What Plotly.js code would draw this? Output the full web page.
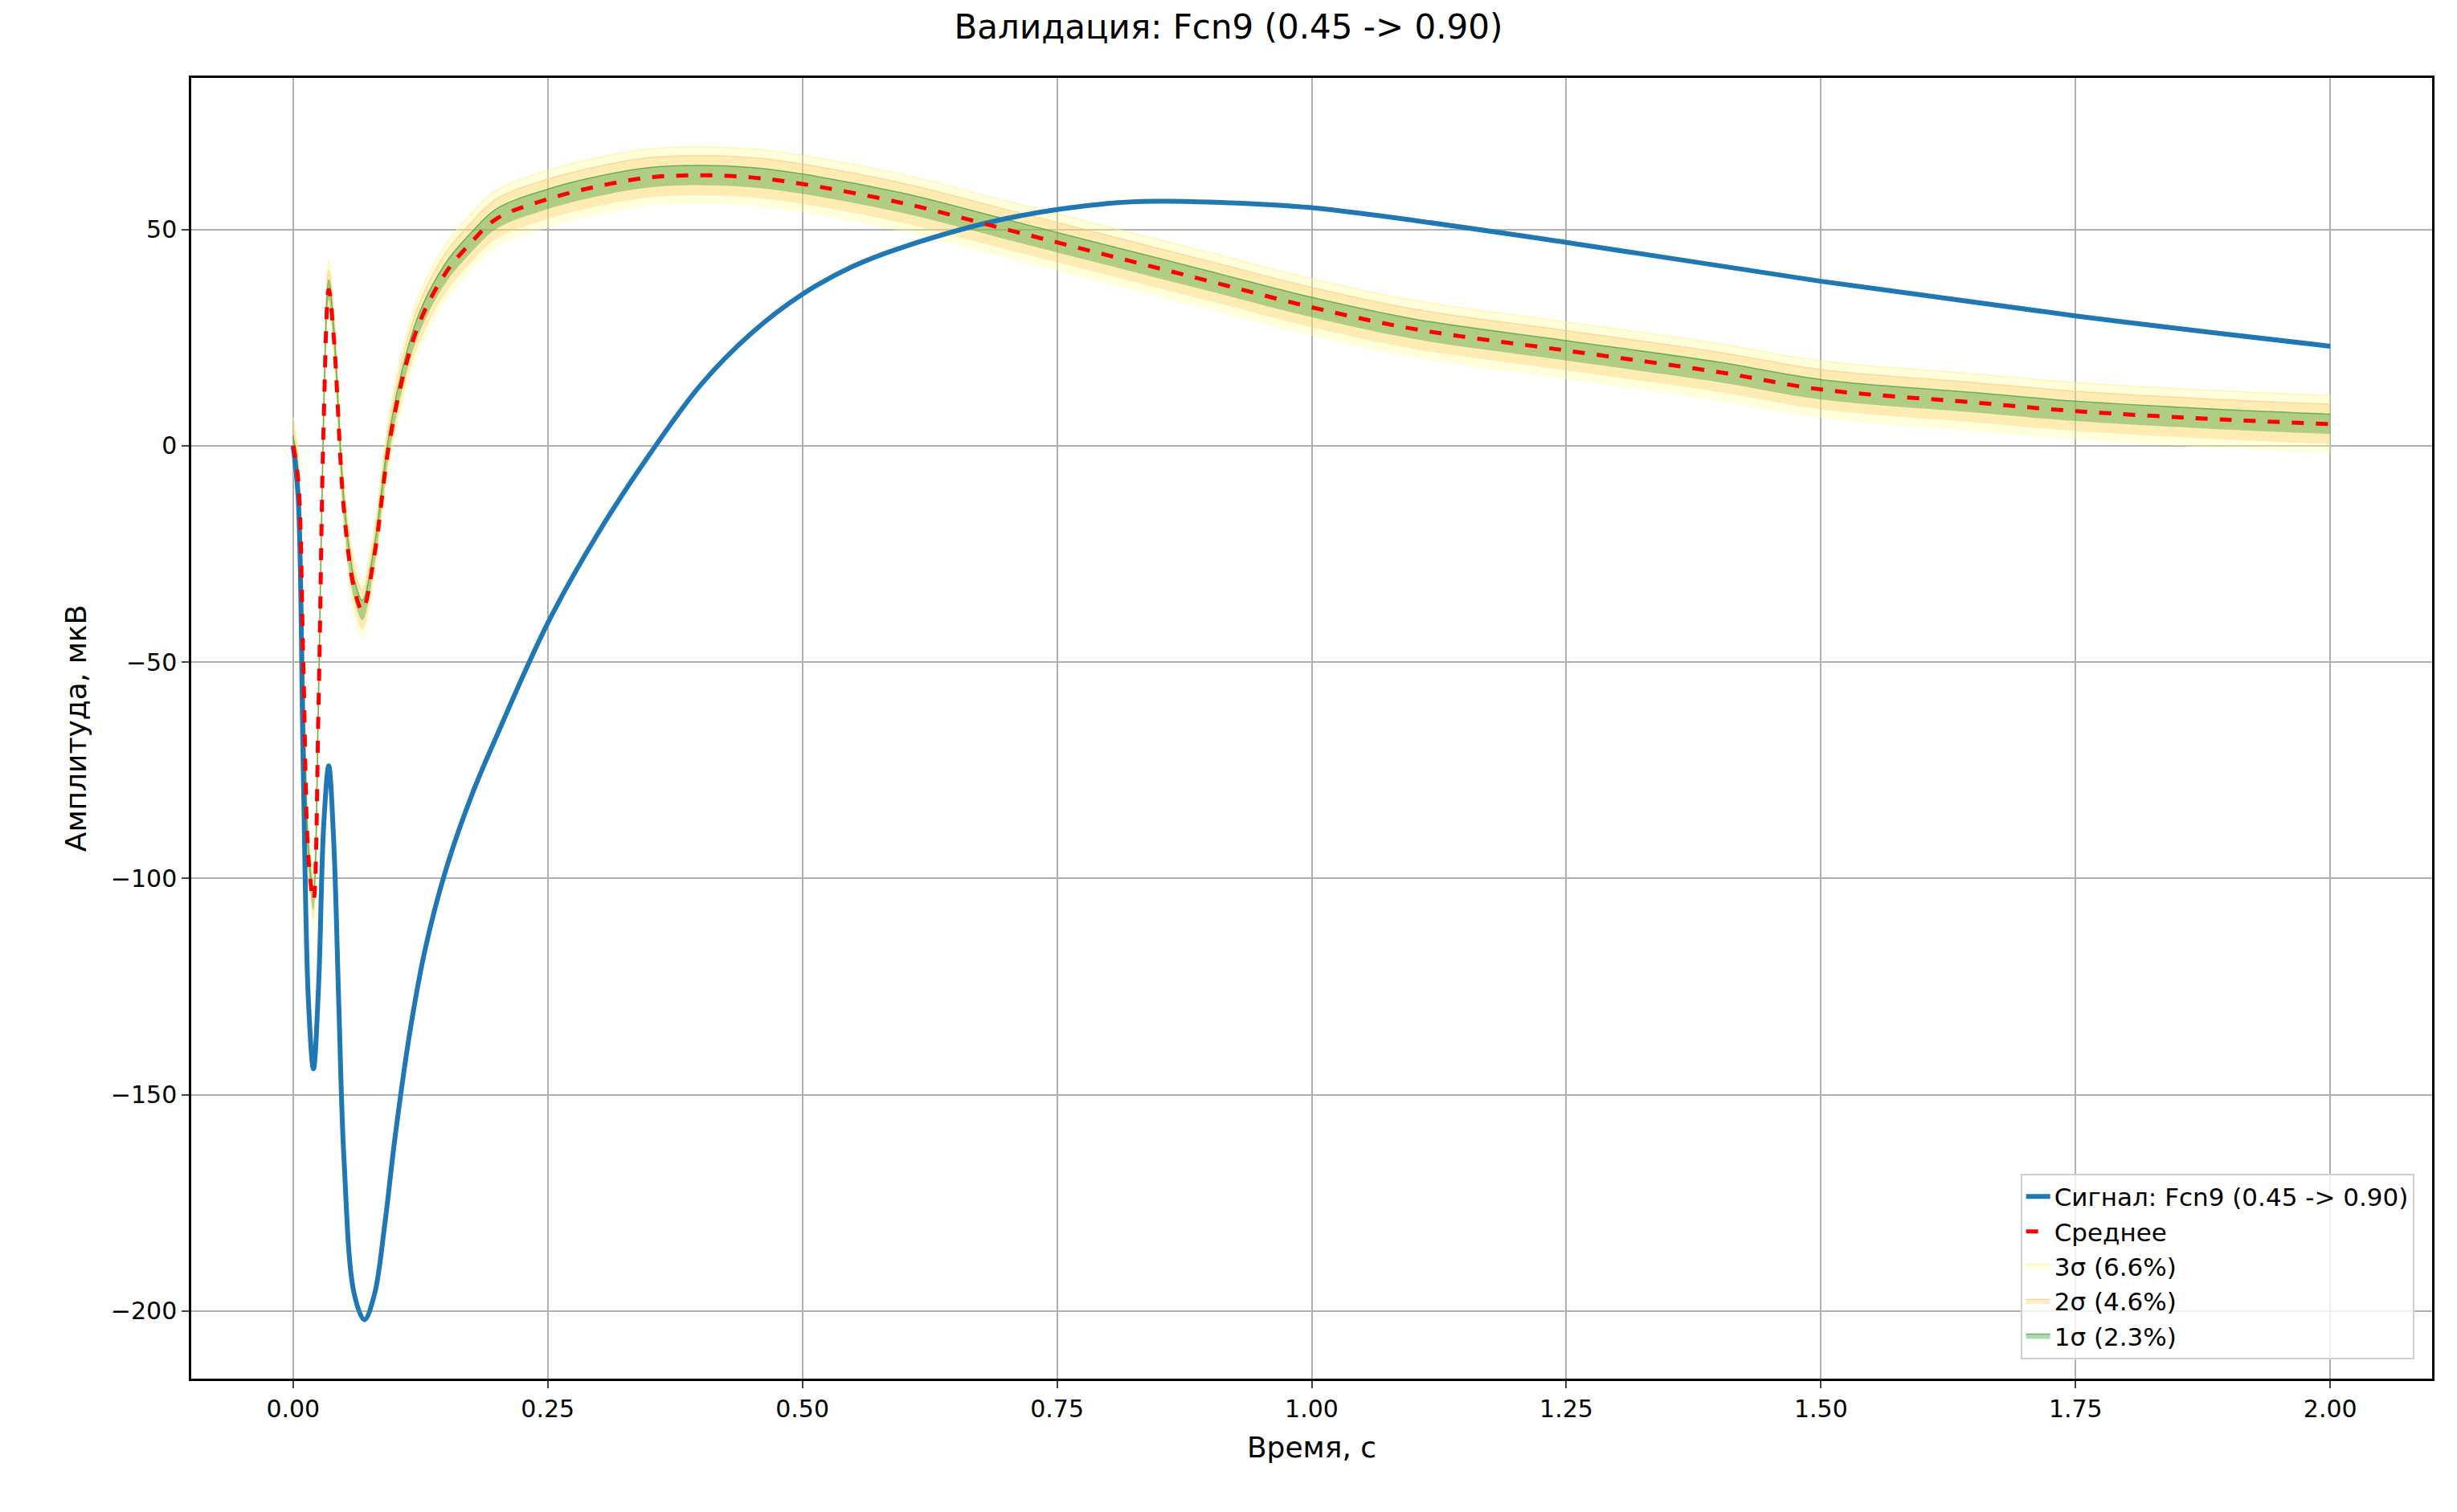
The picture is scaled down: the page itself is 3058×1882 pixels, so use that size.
<!DOCTYPE html>
<html><head><meta charset="utf-8">
<script src="https://cdn.plot.ly/plotly-3.0.1.min.js"></script>
<style>body{margin:0;background:#fff}</style></head>
<body><div id="plot" style="width:3058px;height:1882px"></div>
<script>
const sigT = [0,0.005,0.01,0.015,0.02,0.025,0.03,0.035,0.04,0.045,0.05,0.06,0.07,0.08,0.09,0.1,0.115,0.13,0.15,0.175,0.2,0.25,0.3,0.35,0.4,0.45,0.5,0.55,0.6,0.7,0.8,0.85,0.9,1.0,1.25,1.5,1.75,2.0];
const sigV = [0,-12,-75,-128,-144,-125,-88,-74,-92,-130,-165,-196,-202,-196,-180,-160,-135,-116,-98,-81,-67,-41,-20,-2,14,26,35,41.5,46,52.5,56,56.5,56.3,55,47,38,30,23];
const meanT = [0,0.005,0.01,0.015,0.02,0.025,0.03,0.035,0.04,0.05,0.06,0.068,0.08,0.094,0.11,0.125,0.15,0.175,0.2,0.25,0.3,0.35,0.4,0.45,0.5,0.6,0.7,0.8,0.9,1.0,1.1,1.25,1.4,1.5,1.65,1.75,1.9,2.0];
const meanV = [0,-8,-50,-95,-105,-60,5,36,25,-15,-33,-38,-25,0,18,29,40,47,52.5,57,60,62,62.5,62,60.5,56,50,44,38,32,27,22,17,13,10,8,6,5];
const sigmaHalf = [6.6, 4.6, 2.3];
const bandNames = ['3σ (6.6%)','2σ (4.6%)','1σ (2.3%)'];
const bandFill = ['rgba(255,255,153,0.35)','rgba(255,190,90,0.3)','rgba(60,160,60,0.4)'];
const bandLine = ['rgba(255,240,150,0.6)','rgba(255,200,120,0.6)','rgba(60,160,60,0.7)'];

const traces = [];
sigmaHalf.forEach((s,i)=>{
  traces.push({x:meanT,y:meanV.map(v=>v-s),mode:'lines',line:{width:0,shape:'spline'},showlegend:false,hoverinfo:'skip'});
  traces.push({x:meanT,y:meanV.map(v=>v+s),mode:'lines',fill:'tonexty',fillcolor:bandFill[i],
    line:{width:1.5,color:bandLine[i],shape:'spline'},name:bandNames[i],legendrank:3+i});
});
traces.push({x:sigT,y:sigV,mode:'lines',line:{color:'#1f77b4',width:6,shape:'spline'},name:'Сигнал: Fcn9 (0.45 -> 0.90)',legendrank:1});
traces.push({x:meanT,y:meanV,mode:'lines',line:{color:'red',width:5,dash:'dash',shape:'spline'},name:'Среднее',legendrank:2});

const ax = {showline:true,linecolor:'black',linewidth:2.5,mirror:true,ticks:'outside',ticklen:9,tickwidth:2,
  showgrid:true,gridcolor:'#b0b0b0',gridwidth:2,zeroline:false,tickfont:{size:30,color:'black'}};
Plotly.newPlot('plot',traces,{
  width:3058,height:1882,paper_bgcolor:'white',plot_bgcolor:'white',
  font:{family:'DejaVu Sans',color:'black'},
  margin:{l:238,r:31,t:97,b:166},
  title:{text:'Валидация: Fcn9 (0.45 -> 0.90)',font:{size:42},x:0.5,xanchor:'center',y:0.99,yanchor:'top'},
  xaxis:Object.assign({},ax,{range:[-0.1,2.1],tickvals:[0,0.25,0.5,0.75,1,1.25,1.5,1.75,2],ticktext:['0.00','0.25','0.50','0.75','1.00','1.25','1.50','1.75','2.00'],
    title:{text:'Время, с',font:{size:36},standoff:20}}),
  yaxis:Object.assign({},ax,{range:[-215.6,85],tickvals:[-200,-150,-100,-50,0,50],ticktext:['−200','−150','−100','−50','0','50'],
    title:{text:'Амплитуда, мкВ',font:{size:36},standoff:20}}),
  legend:{x:0.992,y:0.015,xanchor:'right',yanchor:'bottom',bgcolor:'rgba(255,255,255,0.8)',bordercolor:'#d0d0d0',borderwidth:2,
    font:{size:31},traceorder:'normal'}
},{displayModeBar:false});
</script></body></html>
